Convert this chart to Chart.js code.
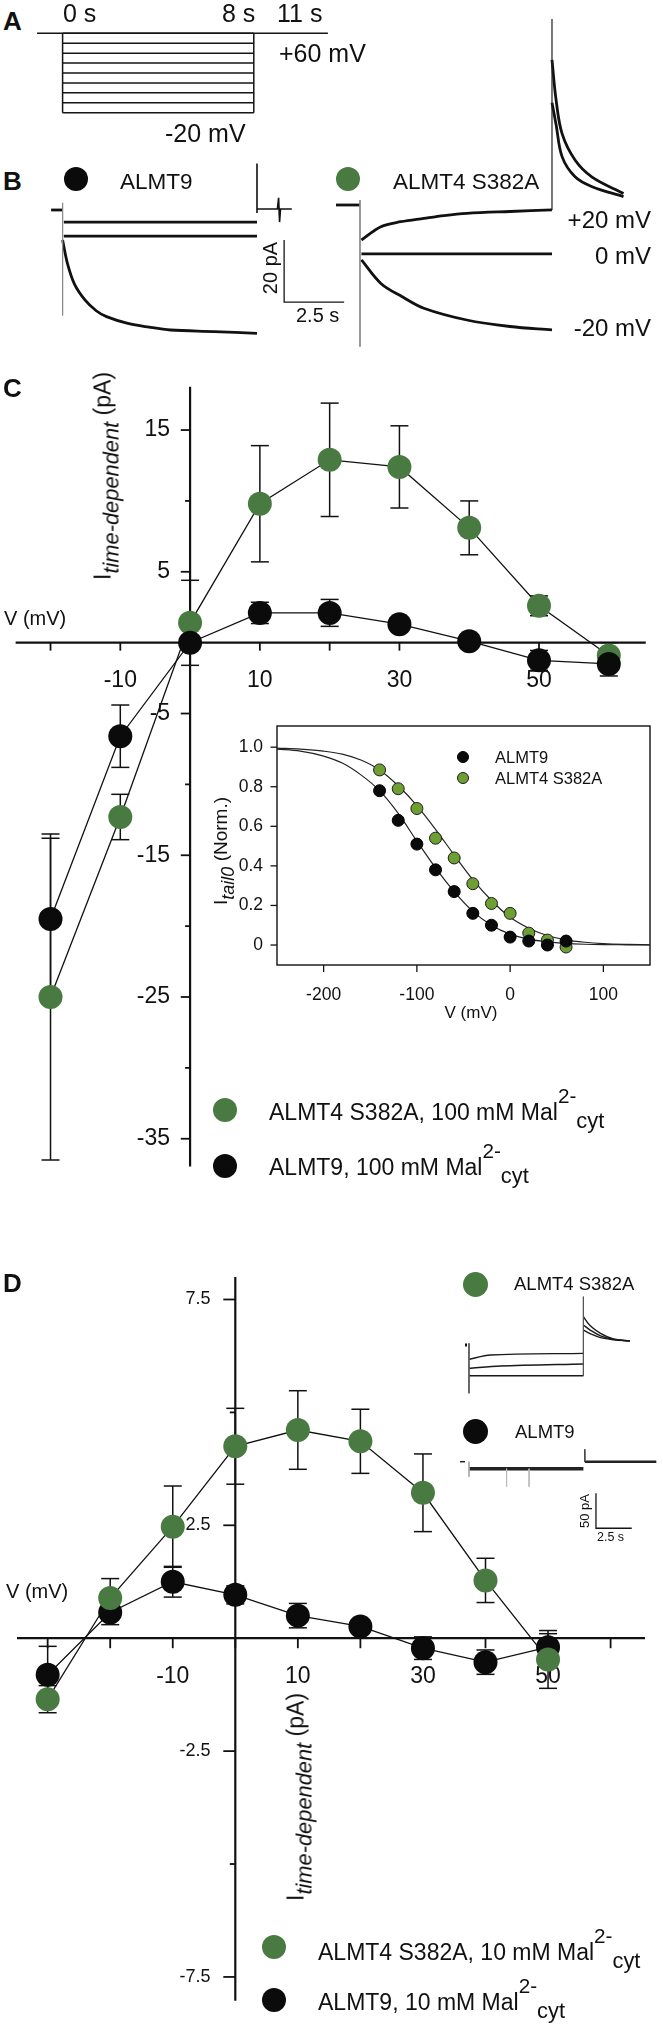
<!DOCTYPE html>
<html>
<head>
<meta charset="utf-8">
<title>ALMT9 / ALMT4 S382A time-dependent currents</title>
<script src="https://cdn.jsdelivr.net/npm/chart.js@4.4.1/dist/chart.umd.min.js"></script>
<style>
    body { margin: 0; background: #fff; }
    #fig {
        position: relative; width: 663px; height: 2028px; overflow: hidden; background: #fff;
        font-family: "Liberation Sans", Arial, sans-serif; color: #111;
    }
    #fig canvas { position: absolute; }
    .lbl { position: absolute; white-space: nowrap; line-height: 1; }
    .lbl .up { position: relative; top: -0.8em; font-size: 0.9em; }
    .lbl .dn { position: relative; top: 0.37em; font-size: 0.95em; }
    .dot { position: absolute; border-radius: 50%; box-sizing: border-box; }
</style>
</head>
<body>
<div id="fig">
    <canvas id="protocolA" width="310" height="105" style="left:30px;top:20px"></canvas>
    <canvas id="sweepB9" width="310" height="205" style="left:40px;top:150px"></canvas>
    <canvas id="sweepB4" width="310" height="345" style="left:330px;top:10px"></canvas>
    <canvas id="ivC" width="663" height="820" style="left:0px;top:370px"></canvas>
    <canvas id="tailC" width="460" height="315" style="left:200px;top:715px"></canvas>
    <canvas id="ivD" width="663" height="778" style="left:0px;top:1250px"></canvas>
    <canvas id="sweepD4" width="185" height="110" style="left:455px;top:1290px"></canvas>
    <canvas id="sweepD9" width="205" height="100" style="left:455px;top:1440px"></canvas>
</div>

<script>
// =====================================
// Data
// =====================================

// ---------------- A: voltage protocol (mV, s) ----------------
const protocolSteps = [60, 50, 40, 30, 20, 10, 0, -10, -20];
const holdingMv = 60;
const holdingSpan = [-1.07, 11.1];
const stepSpan = [0, 8];

// ---------------- B: example sweeps, ALMT9 (s, pA) ----------------
const b9PreT = [-0.48, 0], b9PreI = [0, 0];
const b9CapT = [0, 0], b9CapI = [2.3, -34];
const b9PlusT = [0.05, 8.1], b9PlusI = [-3.9, -3.9];
const b9ZeroT = [0.05, 8.1], b9ZeroI = [-8.4, -8.4];
const b9MinusT = [0, 0.2, 0.5, 0.93, 1.4, 1.83, 2.72, 3.6, 4.5, 6.3, 8.1];
const b9MinusI = [-9.7, -17.2, -24, -29, -32.5, -34.4, -36.6, -37.8, -38.7, -39.2, -39.8];
const b9TailT = [8.1, 8.1, 8.1, 8.95, 9.0, 9.04, 9.08, 9.55];
const b9TailI = [15, -1, 0.3, 0.3, 3.9, -3.9, 0.3, 0.3];
const bScaleBar = { t: 9.23, i: -29.7, seconds: 2.5, pA: 20 };

// ---------------- B: example sweeps, ALMT4 S382A (s, pA) ----------------
const b4PreT = [-1.0, 0], b4PreI = [0, 0];
const b4CapT = [0, 0], b4CapI = [1.6, -45.7];
const b4PlusT = [0.06, 0.87, 1.7, 2.66, 3.5, 4.45, 6.25, 8.0];
const b4PlusI = [-11.3, -7.0, -5.4, -4.3, -3.4, -2.7, -2.1, -1.6];
const b4ZeroT = [0.06, 8.0], b4ZeroI = [-15.8, -15.8];
const b4MinusT = [0.06, 0.87, 1.76, 2.66, 4.45, 6.25, 8.0];
const b4MinusI = [-17.7, -25.3, -29.6, -33.3, -37.1, -39.2, -40.3];
const b4TailVT = [8.0, 8.0], b4TailVI = [60, -1.6];
const b4TailT = [8.0, 8.17, 8.42, 8.96, 9.67, 10.98];
const b4TailAI = [46.8, 33.9, 23, 14.5, 9, 3.7];
const b4TailBI = [33, 26, 15.6, 9.1, 5.9, 2.7];

// ---------------- C: I/V, 100 mM Mal2- cyt ----------------
const voltC = [-20, -10, 0, 10, 20, 30, 40, 50, 60];
const s382a100 = [-25.0, -12.3, 1.4, 9.8, 12.9, 12.4, 8.1, 2.6, -0.9];
const s382a100Err = [11.5, 1.6, 3.0, 4.1, 4.0, 2.9, 1.9, 0.7, 0.9];
const almt9_100 = [-19.5, -6.6, 0.0, 2.1, 2.1, 1.3, 0.1, -1.25, -1.5];
const almt9_100Err = [5.7, 2.2, 0.4, 0.75, 0.95, 0.3, 0.3, 0.7, 0.85];
const cTicksX = [-20, -10, 0, 10, 20, 30, 40, 50, 60];
const cLabelsX = [-10, 10, 30, 50];
const cTicksY = [15, 5, -5, -15, -25, -35];
const cMinorY = [10, -10, -20, -30];

// ---------------- C inset: normalised tail currents ----------------
const voltTail = [-140, -120, -100, -80, -60, -40, -20, 0, 20, 40, 60];
const almt9Norm = [0.78, 0.63, 0.51, 0.38, 0.27, 0.16, 0.10, 0.04, 0.02, 0.0, 0.02];
const s382aNorm = [0.885, 0.79, 0.69, 0.54, 0.44, 0.31, 0.21, 0.16, 0.06, 0.025, -0.01];
const fitV = [-250, -225, -200, -180, -160, -140, -120, -100, -80, -60, -40, -20, 0, 20, 40, 60, 80, 100, 125, 150];
const almt9Fit = [0.99, 0.98, 0.955, 0.92, 0.86, 0.78, 0.665, 0.525, 0.39, 0.27, 0.17, 0.10, 0.055, 0.03, 0.016, 0.008, 0.004, 0.002, 0.001, 0.0];
const s382aFit = [0.995, 0.99, 0.98, 0.965, 0.935, 0.885, 0.805, 0.705, 0.585, 0.455, 0.33, 0.225, 0.14, 0.085, 0.048, 0.026, 0.014, 0.007, 0.003, 0.001];
const tailTicksX = [-200, -100, 0, 100];
const tailTicksY = [0, 0.2, 0.4, 0.6, 0.8, 1.0];
const tailLabelsY = ["0", "0.2", "0.4", "0.6", "0.8", "1.0"];

// ---------------- D: I/V, 10 mM Mal2- cyt ----------------
const voltD = [-30, -20, -10, 0, 10, 20, 30, 40, 50];
const s382a10 = [-1.35, 0.89, 2.47, 4.25, 4.61, 4.36, 3.22, 1.28, -0.47];
const s382a10Err = [0.3, 0.43, 0.9, 0.84, 0.87, 0.71, 0.86, 0.49, 0.64];
const almt9_10 = [-0.81, 0.57, 1.25, 0.96, 0.5, 0.26, -0.22, -0.53, -0.2];
const almt9_10Err = [0.63, 0.27, 0.34, 0.2, 0.27, 0.1, 0.25, 0.27, 0.3];
const dTicksX = [-30, -20, -10, 0, 10, 20, 30, 40, 50, 60];
const dLabelsX = [-10, 10, 30, 50];
const dTicksY = [7.5, 2.5, -2.5, -7.5];
const dMinorY = [5, -5];

// ---------------- D inset: sweeps (s, pA) ----------------
const dgPreT = [-0.28, -0.14], dgPreI = [0, 0];
const dgCapT = [0, 0], dgCapI = [2.4, -69];
const dgUpperT = [0, 1.5, 8.0], dgUpperI = [-20.4, -14.3, -11.9];
const dgMidT = [0, 2.2, 8.0], dgMidI = [-33.3, -30, -27.1];
const dgLowT = [0, 8.0], dgLowI = [-43.9, -43.9];
const dgTailVT = [8.0, 8.0], dgTailVI = [69, -44];
const dgTailT = [8.0, 8.5, 9.2, 10.1, 11.25];
const dgTailAI = [40.4, 27, 16.5, 8.5, 5.7];
const dgTailBI = [28.6, 21, 13, 8, 5.7];
const dgTailCI = [21.4, 16, 10.5, 7.5, 5.7];

const d9PreT = [-0.63, -0.28], d9PreI = [0, 0];
const d9CapT = [0, 0], d9CapI = [0, -21.4];
const d9BandT = [0, 8.0], d9BandI = [-10, -10];
const d9SpikeAT = [2.63, 2.63], d9SpikeBT = [4.2, 4.2], d9SpikeI = [-10, -35.7];
const d9TailVT = [8.1, 8.1], d9TailVI = [17.7, 0];
const d9TailT = [8.1, 13.1], d9TailI = [0, 0];
const dScaleBar = { t: 8.88, i: -95.1, seconds: 2.5, pA: 50 };

// =====================================
// Helpers
// =====================================

const FONT = '"Liberation Sans", Arial, sans-serif';
const GREEN = "#497a42";
const INSET_GREEN = "#6e9f32";

function pts(xs, ys) {
    return xs.map((x, i) => ({ x: x, y: ys[i] }));
}

function trace(xs, ys, extra) {
    return Object.assign({
        data: pts(xs, ys),
        borderColor: "#151515",
        borderWidth: 1.5,
        pointRadius: 0,
        fill: false,
        tension: 0,
        clip: false
    }, extra || {});
}

function scaleBar(b) {
    return trace([b.t, b.t, b.t + b.seconds], [b.i + b.pA, b.i, b.i], { borderWidth: 1.3 });
}

function seg(ctx, x1, y1, x2, y2) {
    ctx.beginPath();
    ctx.moveTo(x1, y1);
    ctx.lineTo(x2, y2);
    ctx.stroke();
}

// axes crossing at a value (or a frame), drawn from the chart's own scales
const crossAxes = {
    id: "crossAxes",
    beforeDatasetsDraw(chart, args, o) {
        const ctx = chart.ctx;
        const sx = chart.scales.x;
        const sy = chart.scales.y;
        ctx.save();
        ctx.strokeStyle = "#111";
        ctx.fillStyle = "#111";

        if (o.frame) {
            const a = chart.chartArea;
            ctx.lineWidth = o.frame;
            ctx.strokeRect(a.left, a.top, a.right - a.left, a.bottom - a.top);
        }

        if (o.x) {
            const c = o.x;
            const y0 = sy.getPixelForValue(c.at);
            if (c.width) {
                ctx.lineWidth = c.width;
                seg(ctx, sx.getPixelForValue(c.from), y0, sx.getPixelForValue(c.to), y0);
            }
            ctx.lineWidth = c.tickWidth;
            c.ticks.forEach(v => {
                const px = sx.getPixelForValue(v);
                seg(ctx, px, y0, px, y0 + c.tickLen);
            });
            ctx.font = c.font;
            ctx.textAlign = "center";
            ctx.textBaseline = "alphabetic";
            c.labels.forEach((v, i) => {
                ctx.fillText(c.text ? c.text[i] : String(v), sx.getPixelForValue(v), y0 + c.labelDy);
            });
        }

        if (o.y) {
            const c = o.y;
            const x0 = sx.getPixelForValue(c.at);
            if (c.width) {
                ctx.lineWidth = c.width;
                seg(ctx, x0, sy.getPixelForValue(c.from), x0, sy.getPixelForValue(c.to));
            }
            ctx.lineWidth = c.tickWidth;
            c.ticks.forEach(v => {
                const py = sy.getPixelForValue(v);
                seg(ctx, x0 - c.tickLen, py, x0, py);
            });
            (c.minor || []).forEach(v => {
                const py = sy.getPixelForValue(v);
                seg(ctx, x0 - c.minorLen, py, x0, py);
            });
            ctx.font = c.font;
            ctx.textAlign = "right";
            ctx.textBaseline = "middle";
            c.ticks.forEach((v, i) => {
                ctx.fillText(c.text ? c.text[i] : String(v), x0 - c.labelDx, sy.getPixelForValue(v));
            });
        }
        ctx.restore();
    }
};

// mean +/- error bars, read from dataset.errorBars
const errorBars = {
    id: "errorBars",
    beforeDatasetsDraw(chart, args, o) {
        const ctx = chart.ctx;
        const sx = chart.scales.x;
        const sy = chart.scales.y;
        ctx.save();
        ctx.strokeStyle = "#111";
        ctx.lineWidth = o.width || 1.5;
        chart.data.datasets.forEach(ds => {
            if (!ds.errorBars) return;
            ds.data.forEach((p, i) => {
                const e = ds.errorBars[i];
                const px = sx.getPixelForValue(p.x);
                const top = sy.getPixelForValue(p.y + e);
                const bot = sy.getPixelForValue(p.y - e);
                seg(ctx, px, top, px, bot);
                seg(ctx, px - o.cap, top, px + o.cap, top);
                seg(ctx, px - o.cap, bot, px + o.cap, bot);
            });
        });
        ctx.restore();
    }
};

function drawChart(id, xr, yr, datasets, plugins, pluginOpts, padding) {
    return new Chart(document.getElementById(id), {
        type: "line",
        data: { datasets: datasets },
        options: {
            responsive: false,
            animation: false,
            events: [],
            layout: { padding: padding || 0 },
            plugins: Object.assign({
                legend: { display: false },
                tooltip: { enabled: false }
            }, pluginOpts || {}),
            scales: {
                x: { type: "linear", display: false, min: xr[0], max: xr[1] },
                y: { type: "linear", display: false, min: yr[0], max: yr[1] }
            }
        },
        plugins: plugins || []
    });
}

// =====================================
// A: protocol
// =====================================

const protocolSets = [trace(holdingSpan, [holdingMv, holdingMv])];
protocolSteps.forEach(v => protocolSets.push(trace(stepSpan, [v, v])));
stepSpan.forEach(t => protocolSets.push(trace([t, t], [holdingMv, Math.min(...protocolSteps)])));

drawChart("protocolA", [-1.364, 11.607], [-32.4, 73.4], protocolSets);

// =====================================
// B: sweeps
// =====================================

const thick = { borderWidth: 2.8, borderColor: "#111" };
const capStyle = { borderWidth: 1, borderColor: "#8a8a8a" };

drawChart("sweepB9", [-0.942, 11.975], [-46.77, 19.35], [
    trace(b9CapT, b9CapI, capStyle),
    trace(b9PreT, b9PreI, thick),
    trace(b9PlusT, b9PlusI, thick),
    trace(b9ZeroT, b9ZeroI, thick),
    trace(b9MinusT, b9MinusI, Object.assign({ tension: 0.35 }, thick)),
    trace(b9TailT, b9TailI, { borderWidth: 1.6, borderColor: "#111" }),
    scaleBar(bScaleBar)
]);

drawChart("sweepB4", [-1.25, 11.667], [-48.39, 62.9], [
    trace(b4CapT, b4CapI, capStyle),
    trace(b4TailVT, b4TailVI, { borderWidth: 1.2, borderColor: "#222" }),
    trace(b4PreT, b4PreI, thick),
    trace(b4PlusT, b4PlusI, Object.assign({ tension: 0.35 }, thick)),
    trace(b4ZeroT, b4ZeroI, thick),
    trace(b4MinusT, b4MinusI, Object.assign({ tension: 0.35 }, thick)),
    trace(b4TailT, b4TailAI, Object.assign({ tension: 0.35 }, thick)),
    trace(b4TailT, b4TailBI, Object.assign({ tension: 0.35 }, thick))
]);

// =====================================
// C: I/V 100 mM
// =====================================

function ivSet(xs, ys, errs, color, order) {
    return {
        data: pts(xs, ys),
        errorBars: errs,
        borderColor: "#111",
        borderWidth: 1.3,
        pointRadius: 12,
        pointBackgroundColor: color,
        pointBorderWidth: 0,
        clip: false,
        order: order
    };
}

drawChart("ivC", [-25.52, 66.05], [-37.77, 18.39], [
    ivSet(voltC, almt9_100, almt9_100Err, "#0b0b0b", 0),
    ivSet(voltC, s382a100, s382a100Err, GREEN, 1)
], [crossAxes, errorBars], {
    errorBars: { cap: 9, width: 1.5 },
    crossAxes: {
        x: { at: 0, from: -25, to: 65.3, width: 2.2, ticks: cTicksX, tickLen: 8, tickWidth: 1.8,
             labels: cLabelsX, labelDy: 44.5, font: "23px " + FONT },
        y: { at: 0, from: 18.05, to: -36.95, width: 2.2, ticks: cTicksY, tickLen: 9.3, tickWidth: 1.8,
             minor: cMinorY, minorLen: 5, labelDx: 20, font: "23px " + FONT }
    }
});

// C inset: tail current activation
drawChart("tailC", [-250, 150], [-0.101, 1.107], [
    { data: pts(voltTail, almt9Norm), showLine: false, pointRadius: 6, pointBackgroundColor: "#0a0a0a",
      pointBorderColor: "#000", pointBorderWidth: 1, order: 0, clip: false },
    { data: pts(voltTail, s382aNorm), showLine: false, pointRadius: 6, pointBackgroundColor: INSET_GREEN,
      pointBorderColor: "#1d1d1d", pointBorderWidth: 1, order: 0, clip: false },
    trace(fitV, almt9Fit, { borderWidth: 1.2, borderColor: "#222", cubicInterpolationMode: "monotone", clip: 1, order: 1 }),
    trace(fitV, s382aFit, { borderWidth: 1.2, borderColor: "#222", cubicInterpolationMode: "monotone", clip: 1, order: 1 })
], [crossAxes], {
    crossAxes: {
        frame: 1.4,
        x: { at: -0.101, width: 0, ticks: tailTicksX, tickLen: 7, tickWidth: 1.3,
             labels: tailTicksX, labelDy: 35, font: "17.5px " + FONT },
        y: { at: -250, width: 0, ticks: tailTicksY, text: tailLabelsY, tickLen: 6.5, tickWidth: 1.3,
             labelDx: 14, font: "17.5px " + FONT }
    }
}, { left: 77, top: 11, right: 10, bottom: 65 });

// =====================================
// D: I/V 10 mM
// =====================================

drawChart("ivD", [-35.70, 66.46], [-8.365, 8.33], [
    ivSet(voltD, s382a10, s382a10Err, GREEN, 0),
    ivSet(voltD, almt9_10, almt9_10Err, "#0b0b0b", 1)
], [crossAxes, errorBars], {
    errorBars: { cap: 9, width: 1.5 },
    crossAxes: {
        x: { at: 0, from: -34.9, to: 65.5, width: 2.2, ticks: dTicksX, tickLen: 10, tickWidth: 1.8,
             labels: dLabelsX, labelDy: 45, font: "23px " + FONT },
        y: { at: 0, from: 8.0, to: -8.03, width: 2.2, ticks: dTicksY, tickLen: 12, tickWidth: 1.8,
             minor: dMinorY, minorLen: 5.5, labelDx: 24.7, font: "18px " + FONT }
    }
});

// D inset sweeps
const thin = { borderWidth: 1.4, borderColor: "#1a1a1a" };

drawChart("sweepD4", [-0.979, 11.958], [-78.57, 78.57], [
    trace(dgCapT, dgCapI, { borderWidth: 1, borderColor: "#555" }),
    trace(dgTailVT, dgTailVI, { borderWidth: 1, borderColor: "#555" }),
    trace(dgPreT, dgPreI, { borderWidth: 3, borderColor: "#111" }),
    trace(dgUpperT, dgUpperI, Object.assign({ tension: 0.3 }, thin)),
    trace(dgMidT, dgMidI, Object.assign({ tension: 0.3 }, thin)),
    trace(dgLowT, dgLowI, thin),
    trace(dgTailT, dgTailAI, Object.assign({ tension: 0.35 }, thin)),
    trace(dgTailT, dgTailBI, Object.assign({ tension: 0.35 }, thin)),
    trace(dgTailT, dgTailCI, Object.assign({ tension: 0.35 }, thin))
]);

drawChart("sweepD9", [-0.979, 13.357], [-111.86, 31.0], [
    trace(d9CapT, d9CapI, { borderWidth: 1, borderColor: "#aaa" }),
    trace(d9SpikeAT, d9SpikeI, { borderWidth: 1, borderColor: "#bbb" }),
    trace(d9SpikeBT, d9SpikeI, { borderWidth: 1, borderColor: "#bbb" }),
    trace(d9PreT, d9PreI, { borderWidth: 1.5, borderColor: "#222" }),
    trace(d9BandT, d9BandI, { borderWidth: 3.5, borderColor: "#222" }),
    trace(d9TailVT, d9TailVI, { borderWidth: 1, borderColor: "#444" }),
    trace(d9TailT, d9TailI, { borderWidth: 2.5, borderColor: "#222" }),
    scaleBar(dScaleBar)
]);

// =====================================
// Text and legend markers
// =====================================

const fig = document.getElementById("fig");
const MAL100 = ", 100 mM Mal<span class=\"up\">2-</span><span class=\"dn\">cyt</span>";
const MAL10 = ", 10 mM Mal<span class=\"up\">2-</span><span class=\"dn\">cyt</span>";

// [html, x, y (centre), size, anchor, weight]
const texts = [
    ["A", 3, 21, 26, "left", "bold"],
    ["0 s", 63, 13, 25],
    ["8 s", 222, 13, 25],
    ["11 s", 277, 13, 25],
    ["+60 mV", 279, 53, 25],
    ["-20 mV", 165, 133, 25],

    ["B", 3, 181, 26, "left", "bold"],
    ["ALMT9", 120, 182, 22.5],
    ["ALMT4 S382A", 393, 182, 22.5],
    ["+20 mV", 651, 220, 24, "right"],
    ["0 mV", 651, 256, 24, "right"],
    ["-20 mV", 651, 328, 24, "right"],
    ["20 pA", 270, 268, 20, "rot"],
    ["2.5 s", 296, 315, 20],

    ["C", 3, 388, 26, "left", "bold"],
    ["V (mV)", 4, 618, 20],
    ["I<span class=\"dn\"><i>time-dependent</i></span> (pA)", 103, 476, 23, "rot"],
    ["ALMT4 S382A" + MAL100, 269, 1112, 23],
    ["ALMT9" + MAL100, 269, 1167, 23],
    ["ALMT9", 495, 757, 16.5],
    ["ALMT4 S382A", 495, 778, 16.5],
    ["I<span class=\"dn\"><i>tail0</i></span> (Norm.)", 221, 851, 19, "rot"],
    ["V (mV)", 471, 1012, 17, "center"],

    ["D", 3, 1283, 26, "left", "bold"],
    ["V (mV)", 6, 1591, 20],
    ["I<span class=\"dn\"><i>time-dependent</i></span> (pA)", 296, 1797, 23, "rot"],
    ["ALMT4 S382A", 514, 1284, 18.5],
    ["ALMT9", 515, 1432, 18.5],
    ["50 pA", 584, 1511, 13, "rot"],
    ["2.5 s", 597, 1537, 12.5],
    ["ALMT4 S382A" + MAL10, 318, 1952, 23],
    ["ALMT9" + MAL10, 318, 2002, 23]
];

texts.forEach(t => {
    const el = document.createElement("div");
    el.className = "lbl";
    el.innerHTML = t[0];
    el.style.left = t[1] + "px";
    el.style.top = t[2] + "px";
    el.style.fontSize = t[3] + "px";
    if (t[5]) el.style.fontWeight = t[5];
    const anchor = t[4] || "left";
    if (anchor === "rot") {
        el.style.transform = "translate(-50%,-50%) rotate(-90deg)";
    } else if (anchor === "right") {
        el.style.transform = "translate(-100%,-50%)";
    } else if (anchor === "center") {
        el.style.transform = "translate(-50%,-50%)";
    } else {
        el.style.transform = "translate(0,-50%)";
    }
    fig.appendChild(el);
});

// [cx, cy, r, fill, border]
const dots = [
    [75.5, 178.5, 12, "#0b0b0b"],
    [348, 178.5, 12, GREEN],
    [224.7, 1109.7, 12, GREEN],
    [224.7, 1166, 12, "#0b0b0b"],
    [463, 757.3, 6, "#0a0a0a", "#000"],
    [463, 778.3, 6, INSET_GREEN, "#1d1d1d"],
    [475.5, 1284, 12.5, GREEN],
    [475, 1431.5, 12.5, "#0b0b0b"],
    [274.4, 1947, 12, GREEN],
    [274.4, 1999.5, 12, "#0b0b0b"]
];

dots.forEach(d => {
    const el = document.createElement("div");
    el.className = "dot";
    el.style.left = (d[0] - d[2]) + "px";
    el.style.top = (d[1] - d[2]) + "px";
    el.style.width = el.style.height = (2 * d[2]) + "px";
    el.style.background = d[3];
    if (d[4]) el.style.border = "1px solid " + d[4];
    fig.appendChild(el);
});
</script>
</body>
</html>
